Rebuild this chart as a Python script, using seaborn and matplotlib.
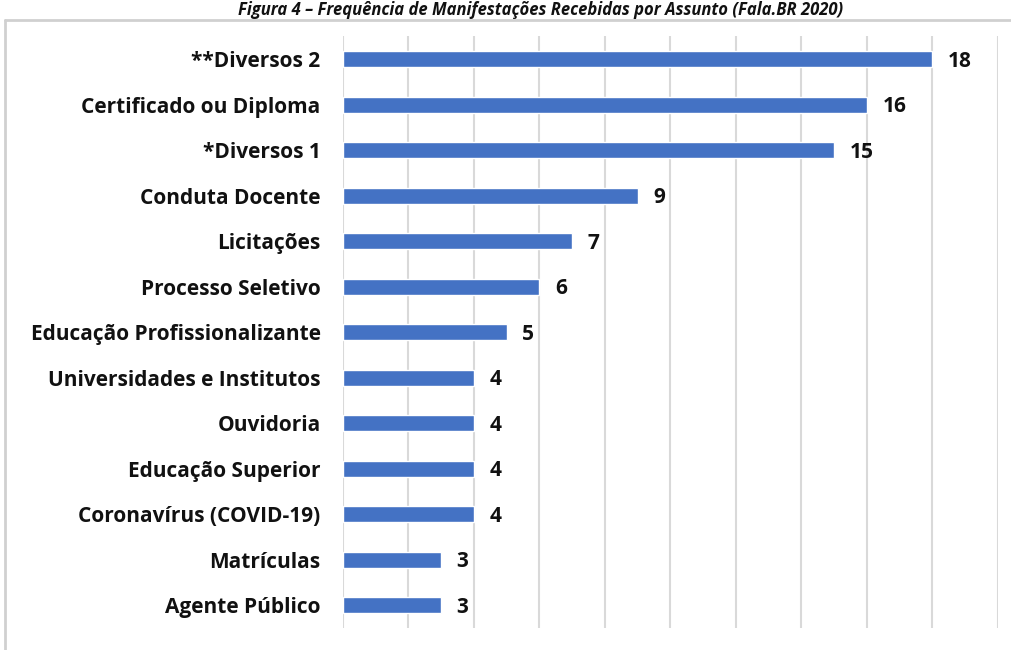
import numpy as np
import pandas as pd
import matplotlib.pyplot as plt
import seaborn as sns
from matplotlib.lines import Line2D

# 데이터
assuntos = ['**Diversos 2', 'Certificado ou Diploma', '*Diversos 1', 'Conduta Docente',
            'Licitações', 'Processo Seletivo', 'Educação Profissionalizante',
            'Universidades e Institutos', 'Ouvidoria', 'Educação Superior',
            'Coronavírus (COVID-19)', 'Matrículas', 'Agente Público']
quantidades = [18, 16, 15, 9, 7, 6, 5, 4, 4, 4, 4, 3, 3]
titulo = 'Figura 4 – Frequência de Manifestações Recebidas por Assunto (Fala.BR 2020)'

df = pd.DataFrame({'assunto': assuntos, 'qtd': quantidades})

sns.set_theme(style='white')
plt.rcParams['font.family'] = ['Open Sans', 'DejaVu Sans']

fig = plt.figure(figsize=(10.11, 6.5), dpi=100)
ax = fig.add_axes([0.339, 0.034, 0.648, 0.91])

sns.barplot(data=df, y='assunto', x='qtd', orient='h', color='#4472C4',
            saturation=1, width=0.35, ax=ax)

ax.set_xlim(0, 20)
ax.set_ylim(len(assuntos) - 0.5, -0.5)
ax.set_xticks(np.arange(0, 21, 2))
ax.set_xticklabels([])
ax.tick_params(axis='both', length=0, pad=16)
ax.grid(axis='x', color='#D9D9D9', linewidth=1.5)
ax.set_axisbelow(True)
for s in ax.spines.values():
    s.set_visible(False)
ax.set_xlabel('')
ax.set_ylabel('')
for lbl in ax.get_yticklabels():
    lbl.set_fontweight('bold')
    lbl.set_fontsize(15)
    lbl.set_color('#111111')

for i, v in enumerate(quantidades):
    ax.text(v + 0.48, i + 0.05, str(v), va='center', ha='left', fontsize=15,
            fontweight='bold', color='#111111')

# 차트 테두리
borda_y = 1 - 20 / 650
fig.add_artist(Line2D([5 / 1011, 1.0], [borda_y] * 2, color='#D0D0D0', lw=2,
                      transform=fig.transFigure))
fig.add_artist(Line2D([5 / 1011] * 2, [0.0, borda_y], color='#D0D0D0', lw=2,
                      transform=fig.transFigure))

# 제목
fig.text(0.535, 1 - 1 / 650, titulo, ha='center', va='top', fontsize=12,
         fontweight='bold', style='italic', color='#111111')

fig.savefig('out.png', dpi=100)
